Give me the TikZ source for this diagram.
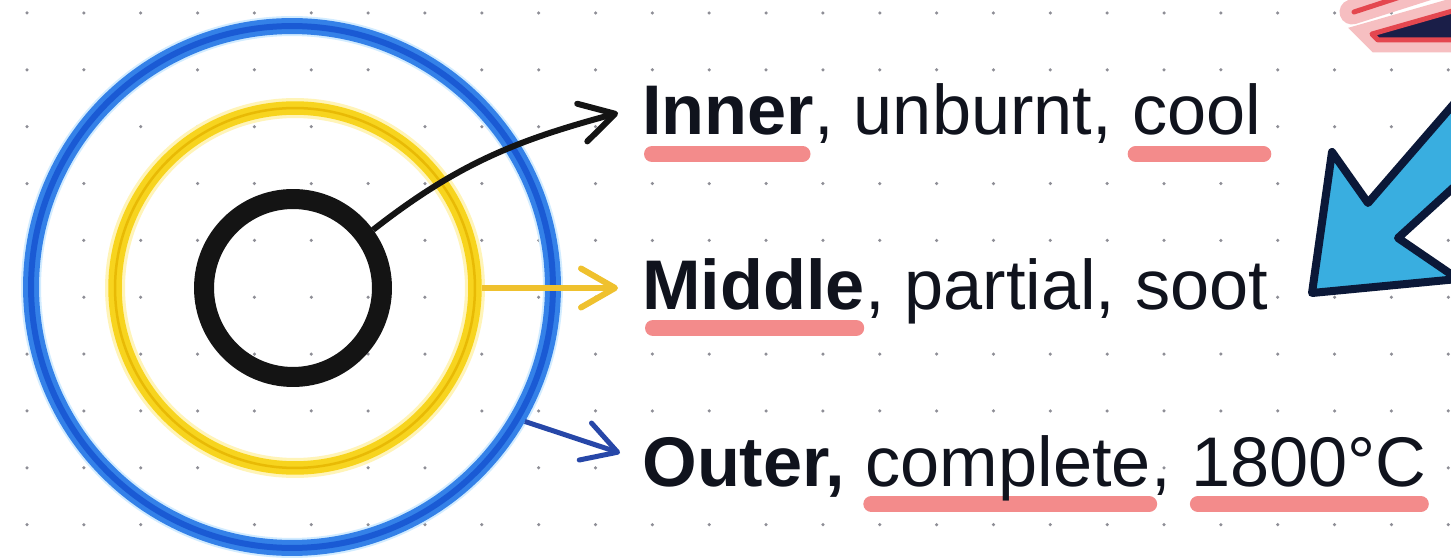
\documentclass[tikz,border=0pt]{standalone}
\usepackage{fontspec}
\setmainfont{Liberation Sans}
\usetikzlibrary{arrows.meta,backgrounds,calc}

\definecolor{gridgrey}{HTML}{8E8E96}
\definecolor{ringblack}{HTML}{141414}
\definecolor{ringblue}{HTML}{3481E8}
\definecolor{ringbluecore}{HTML}{1A5AD4}
\definecolor{ringblueglow}{HTML}{D2ECFF}
\definecolor{ringyellow}{HTML}{F7D41E}
\definecolor{ringyellowcore}{HTML}{E8BA05}
\definecolor{ringyellowglow}{HTML}{FFF4B8}
\definecolor{arrowyellow}{HTML}{EFC12E}
\definecolor{arrowblue}{HTML}{2747A8}
\definecolor{ink}{HTML}{10131D}
\definecolor{markpink}{HTML}{F38B8B}
\definecolor{pointerfill}{HTML}{39AEE0}
\definecolor{pointerline}{HTML}{0B1838}
\definecolor{flagred}{HTML}{E4474F}
\definecolor{flagnavy}{HTML}{1A1E48}

\newcommand\labelfont{\fontsize{40pt}{48pt}\selectfont}

\tikzset{
  ring/.style={circle, inner sep=0pt},
  word/.style={anchor=base west, inner sep=0pt, fill=white, text depth=0pt, text=ink, font=\labelfont},
  highlight/.style={draw=markpink, line width=0.32cm, line cap=round},
  pointer/.style={line width=0.12cm, -{Straight Barb[length=0.68cm,width=0.78cm,round]}},
}

\begin{document}
\begin{tikzpicture}[x=0.02cm, y=-0.02cm]
    \useasboundingbox (0,0) rectangle (1451,560);
    \begin{scope}[on background layer]
        \fill[white] (0,0) rectangle (1451,560);
    \end{scope}

    \foreach \i in {0,...,25}
        \foreach \j in {0,...,9}
            \fill[gridgrey] ({27+56.85*\i},{13+56.85*\j}) circle[radius=0.035cm];

    \node (outer) [ring, minimum size=10.44cm, draw=ringblue, double=ringbluecore, line width=0.1cm, double distance=0.12cm, outer sep=0.16cm, preaction={draw=ringblueglow, line width=0.4cm}] at (292,287) {};
    \node (mid) [ring, minimum size=7.2cm, draw=ringyellow, double=ringyellowcore, line width=0.11cm, double distance=0.05cm, outer sep=0.14cm, preaction={draw=ringyellowglow, line width=0.4cm}] at (295,288) {};
    \node (core) [ring, minimum size=3.56cm, draw=ringblack, line width=0.4cm] at (293,288) {};

    \node (innerword) [word, font=\labelfont\bfseries] at (642,135) {Inner};
    \node (innerrest) [word] at (innerword.base east) {, unburnt, \null};
    \node (coolword) [word] at (innerrest.base east) {cool};

    \node (middleword) [word, font=\labelfont\bfseries] at (642,310) {Middle};
    \node (middlerest) [word] at (middleword.base east) {, partial, soot};

    \node (outerword) [word, font=\labelfont\bfseries] at (642,487) {Outer, \null};
    \node (completeword) [word] at (outerword.base east) {complete};
    \node (outerrest) [word] at (completeword.base east) {, \null};
    \node (tempword) [word] at (outerrest.base east) {1800°C};

    \begin{scope}[on background layer]
        \draw[highlight] ([shift={(10,19)}]innerword.base west) -- ([shift={(-12,19)}]innerword.base east);
        \draw[highlight] ([shift={(4,19)}]coolword.base west) -- ([shift={(2,19)}]coolword.base east);
        \draw[highlight] ([shift={(11,18)}]middleword.base west) -- ([shift={(-9,18)}]middleword.base east);
        \draw[highlight] ([shift={(6,17)}]completeword.base west) -- ([shift={(-2,17)}]completeword.base east);
        \draw[highlight] ([shift={(7,17)}]tempword.base west) -- ([shift={(-6,17)}]tempword.base east);
    \end{scope}

    \coordinate (innertip) at ($(innerword.base west)+(-24,-22)$);
    \coordinate (middletip) at ($(middleword.base west)+(-24,-23)$);
    \coordinate (outertip) at ($(outerword.base west)+(-22,-34)$);

    \draw[pointer, ringblack] (core.36) to[out=38, in=195] (innertip);
    \draw[pointer, arrowyellow] (mid.east) -- (mid.east -| middletip);
    \draw[pointer, arrowblue, line width=0.1cm] (outer.-30) -- (outertip);

    \begin{scope}
        \clip (0,0) rectangle (1451,560);
        \draw[flagred!35, line width=0.5cm, line cap=round] (1352,12) -- (1440,-16);
        \draw[flagred, line width=0.1cm, line cap=round] (1354,12) -- (1440,-16);
        \filldraw[fill=flagnavy, draw=flagred, line width=0.1cm, line join=round, preaction={draw=flagred!35, line width=0.5cm}] (1372,34) -- (1470,6) -- (1470,40) -- (1378,40) -- cycle;
        \filldraw[fill=pointerfill, draw=pointerline, line width=0.16cm, line join=round] (1465,91) -- (1368,203) -- (1332,152) -- (1312,293) -- (1458,279) -- (1398,238) -- (1465,177) -- cycle;
    \end{scope}
\end{tikzpicture}
\end{document}
